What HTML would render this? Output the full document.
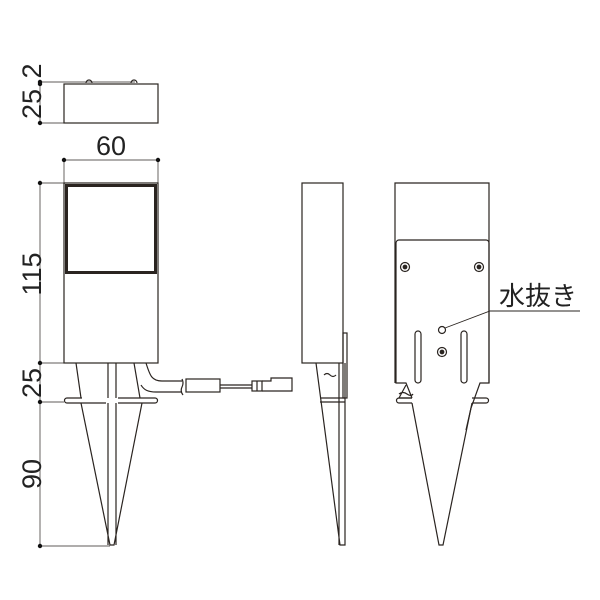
<!DOCTYPE html>
<html><head><meta charset="utf-8"><style>
html,body{margin:0;padding:0;background:#fff;width:600px;height:600px;overflow:hidden}
text{font-family:"Liberation Sans","Noto Sans CJK JP",sans-serif;fill:#222}
</style></head><body>
<svg width="600" height="600" viewBox="0 0 600 600" xmlns="http://www.w3.org/2000/svg">
<g stroke="#2a2420" fill="none" stroke-width="1.2">
<rect x="64" y="84" width="94" height="39" fill="#fff"/>
<path d="M86 83 a3 3 0 0 1 6 0 M131 83 a3 3 0 0 1 6 0"/>
<line x1="40" y1="82" x2="135" y2="82" stroke-width="0.7"/>
<line x1="40" y1="123" x2="64" y2="123" stroke-width="0.7"/>
<line x1="40" y1="82" x2="40" y2="123" stroke-width="0.7"/>
<line x1="64" y1="160" x2="158" y2="160" stroke-width="0.7"/>
<line x1="64" y1="160" x2="64" y2="183" stroke-width="0.7"/>
<line x1="158" y1="160" x2="158" y2="183" stroke-width="0.7"/>
<line x1="40" y1="183" x2="40" y2="546" stroke-width="0.7"/>
<line x1="40" y1="183" x2="64" y2="183" stroke-width="0.7"/>
<line x1="40" y1="363" x2="64" y2="363" stroke-width="0.7"/>
<line x1="40" y1="402" x2="64" y2="402" stroke-width="0.7"/>
<line x1="40" y1="546" x2="110" y2="546" stroke-width="0.7"/>
<rect x="64" y="183" width="94" height="180" fill="#fff"/>
<rect x="66.5" y="185.5" width="89" height="87" stroke-width="3"/>
<path d="M76 363 L81 398 M108 363 V398 M116 363 V398 M134 363 L140 398"/>
<path d="M82 398 H67 a2.5 2.5 0 0 0 0 5 H106 M118 398 H155 a2.5 2.5 0 0 1 0 5 H118"/>
<path d="M108 403 V545 M116 403 V545 M81 403 L110 545 H114 L142 403"/>
<path d="M146 363 C150 376 152 381 162 381 H182 M141 385 C144 390 148 392 156 392 H182"/>
<path d="M182 379 q2 4 0 8 q-2 4 1 8" />
<rect x="186" y="379" width="34" height="13" fill="#fff"/>
<line x1="220" y1="385" x2="252" y2="385"/>
<line x1="220" y1="388" x2="252" y2="388"/>
<rect x="252" y="381" width="10" height="10"/>
<line x1="257" y1="381" x2="257" y2="391"/>
<path d="M262 381 H271 V378 H292 V391 H262"/>
<rect x="302" y="183" width="41" height="180" fill="#fff"/>
<rect x="343" y="333" width="4" height="65"/>
<path d="M316 363 L340 545 H345 V363 M339 363 V545 M320 398 H345 M320 402 H345"/>
<path d="M324 375 q3 -3 6 0 t6 0"/>
<path d="M395 383 V183 H489 V383"/>
<path d="M399 240 H486 a3 3 0 0 1 3 3 V383 H480 L471 408 L466 430 M399 240 a3 3 0 0 0 -3 3 V383 H406 L412 398"/>
<path d="M412 403 H399 a2.5 2.5 0 0 1 0 -5 H412 M472 398 H486 a2.5 2.5 0 0 1 0 5 H472"/>
<path d="M412 403 L439 545 H443 L472 403"/>
<path d="M406 385 L399 398 L412 398 M399 394 q4 -3 8 0 t6 0"/>
<rect x="415" y="331" width="6" height="52" rx="3"/>
<rect x="461" y="331" width="6" height="52" rx="3"/>
<circle cx="405" cy="267" r="4.5"/><circle cx="405" cy="267" r="1.8" fill="#2a2420"/>
<circle cx="479" cy="267" r="4.5"/><circle cx="479" cy="267" r="1.8" fill="#2a2420"/>
<circle cx="442" cy="352" r="4.5"/><circle cx="442" cy="352" r="1.8" fill="#2a2420"/>
<circle cx="442" cy="330" r="3.5"/>
<path d="M445 328 L490 311 H580" stroke-width="0.9"/>
</g>
<g fill="#111">
<circle cx="40" cy="82" r="2.2"/><circle cx="40" cy="84" r="2.2"/><circle cx="40" cy="123" r="2.2"/>
<circle cx="64" cy="160" r="2.2"/><circle cx="158" cy="160" r="2.2"/>
<circle cx="40" cy="183" r="2.2"/><circle cx="40" cy="363" r="2.2"/><circle cx="40" cy="402" r="2.2"/><circle cx="40" cy="546" r="2.2"/>
</g>
<g font-size="27">
<text transform="translate(41 71) rotate(-90)" text-anchor="middle">2</text>
<text transform="translate(41 104) rotate(-90)" text-anchor="middle">25</text>
<text x="111" y="155" text-anchor="middle">60</text>
<text transform="translate(41 274) rotate(-90)" text-anchor="middle">115</text>
<text transform="translate(41 383) rotate(-90)" text-anchor="middle">25</text>
<text transform="translate(41 474) rotate(-90)" text-anchor="middle">90</text>
<text x="499" y="305" font-size="26">水抜き</text>
</g>
</svg>
</body></html>
